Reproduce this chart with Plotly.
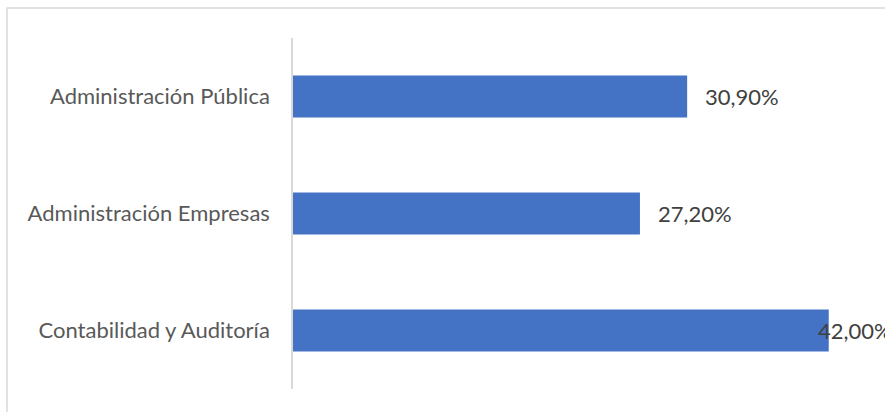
import plotly.graph_objects as go

categories = ["Contabilidad y Auditoría", "Administración Empresas", "Administración Pública"]
values = [42.00, 27.20, 30.90]
labels = ["42,00%", "27,20%", "30,90%"]
label_shift = [-13, 16, 16]

FONT = "Lato"
SIZE = 22

fig = go.Figure()
fig.add_trace(go.Bar(
    y=categories,
    x=values,
    orientation="h",
    marker=dict(color="#4472C4", line=dict(width=0)),
    hoverinfo="skip",
))

for cat, val, lab, sh in zip(categories, values, labels, label_shift):
    fig.add_annotation(
        x=val, y=cat, text=lab, showarrow=False,
        xanchor="left", yanchor="middle", xshift=sh,
        font=dict(family=FONT, size=SIZE, color="#404040"),
    )

# light outer frame around the chart
fig.add_shape(
    type="rect", xref="paper", yref="paper",
    x0=-0.4983, x1=1.2, y0=-0.2, y1=1.0855,
    line=dict(color="#d9d9d9", width=1.5), fillcolor="rgba(0,0,0,0)",
    layer="below",
)

fig.update_layout(
    width=885, height=412,
    margin=dict(l=293, r=18, t=38, b=23),
    paper_bgcolor="white", plot_bgcolor="white",
    bargap=0.64,
    showlegend=False,
    font=dict(family=FONT, size=SIZE, color="#595959"),
    xaxis=dict(range=[0, 45], visible=False, fixedrange=True),
    yaxis=dict(
        range=[-0.5, 2.5], showline=True, linecolor="#d9d9d9", linewidth=1.5,
        showgrid=False, zeroline=False, ticks="", ticklabelstandoff=17,
        tickfont=dict(family=FONT, size=SIZE, color="#595959"),
    ),
)

fig.write_html("out.html")
